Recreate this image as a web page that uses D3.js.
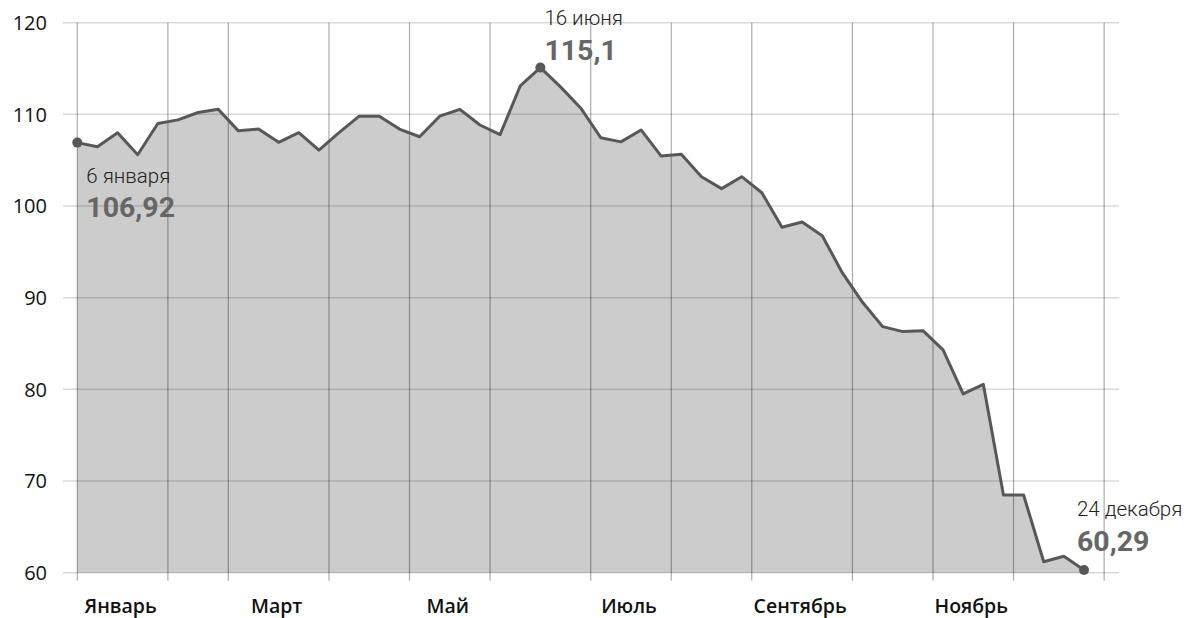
<!DOCTYPE html>
<html lang="ru">
<head>
<meta charset="utf-8">
<script src="https://cdn.jsdelivr.net/npm/d3@7"></script>
<style>
  html, body { margin: 0; padding: 0; background: #fff; }
  svg { display: block; }
</style>
</head>
<body>
<svg id="chart" width="1191" height="618"></svg>
<script>
// Weekly closing prices, one point per week (first week of January to the last week of December)
const prices = [
  106.92, 106.47, 108.0, 105.6, 109.0, 109.4, 110.2, 110.55, 108.2, 108.4,
  106.95, 108.0, 106.1, 108.0, 109.8, 109.8, 108.4, 107.56, 109.8, 110.55,
  108.84, 107.8, 113.1, 115.1, 113.0, 110.7, 107.45, 107.0, 108.3, 105.45,
  105.64, 103.2, 101.9, 103.2, 101.45, 97.68, 98.26, 96.76, 92.7, 89.5,
  86.84, 86.3, 86.4, 84.3, 79.5, 80.55, 68.47, 68.47, 61.2, 61.8,
  60.29
];

// Y axis tick values
const yTicks = [60, 70, 80, 90, 100, 110, 120];

// Month boundaries expressed in week index, and the months they open
const monthBounds = [0, 4.5, 7.5, 12.5, 16.5, 20.5, 25.5, 29.5, 33.5, 38.5, 42.5, 46.5, 51];
const monthNames = ["Январь", "Февраль", "Март", "Апрель", "Май", "Июнь",
                    "Июль", "Август", "Сентябрь", "Октябрь", "Ноябрь", "Декабрь"];
const labelledMonths = ["Январь", "Март", "Май", "Июль", "Сентябрь", "Ноябрь"];

// Highlighted points: week index, date caption, value caption
const callouts = [
  { week: 0,  date: "6 января",   value: "106,92" },
  { week: 23, date: "16 июня",    value: "115,1" },
  { week: 50, date: "24 декабря", value: "60,29" }
];

const svg = d3.select("#chart");

const x = d3.scaleLinear().domain([0, prices.length - 1]).range([77.3, 1084]);
const y = d3.scaleLinear().domain([60, 120]).range([572.7, 22.7]);

// Filled area under the price line
const area = d3.area()
  .x((d, i) => x(i))
  .y0(y(60))
  .y1(d => y(d));

svg.append("path")
  .datum(prices)
  .attr("d", area)
  .attr("fill", "#cccccc");

// Horizontal gridlines
svg.append("g")
  .selectAll("line")
  .data(yTicks)
  .join("line")
  .attr("x1", 63)
  .attr("x2", 1119)
  .attr("y1", d => y(d))
  .attr("y2", d => y(d))
  .attr("stroke", "rgba(0,0,0,0.15)")
  .attr("stroke-width", 1.5);

// Vertical month gridlines, running slightly below the baseline
svg.append("g")
  .selectAll("line")
  .data(monthBounds)
  .join("line")
  .attr("x1", d => x(d))
  .attr("x2", d => x(d))
  .attr("y1", y(120))
  .attr("y2", y(60) + 8)
  .attr("stroke", "rgba(0,0,0,0.33)")
  .attr("stroke-width", 1.2);

// Price line
const line = d3.line()
  .x((d, i) => x(i))
  .y(d => y(d));

svg.append("path")
  .datum(prices)
  .attr("d", line)
  .attr("fill", "none")
  .attr("stroke", "#585858")
  .attr("stroke-width", 3)
  .attr("stroke-linejoin", "round");

// Y tick labels
svg.append("g")
  .selectAll("text")
  .data(yTicks)
  .join("text")
  .attr("x", 47)
  .attr("y", d => y(d))
  .attr("dy", "0.36em")
  .attr("text-anchor", "end")
  .attr("font-family", "'Open Sans', sans-serif")
  .attr("font-weight", 500)
  .attr("font-size", 20)
  .attr("fill", "#111")
  .text(d => d);

// Month labels centred in their month span
svg.append("g")
  .selectAll("text")
  .data(labelledMonths)
  .join("text")
  .attr("x", name => {
    const k = monthNames.indexOf(name);
    return (x(monthBounds[k]) + x(monthBounds[k + 1])) / 2 - 2;
  })
  .attr("y", 613)
  .attr("text-anchor", "middle")
  .attr("font-family", "'Open Sans', sans-serif")
  .attr("font-weight", 600)
  .attr("font-size", 19.5)
  .attr("fill", "#111")
  .text(d => d);

// Highlighted points with captions
const callG = svg.append("g")
  .selectAll("g")
  .data(callouts)
  .join("g");

callG.append("circle")
  .attr("cx", d => x(d.week))
  .attr("cy", d => y(prices[d.week]))
  .attr("r", 5)
  .attr("fill", "#585858");

const offsets = {
  0:  { dx: 9,  dateY: 183, valueY: 217 },
  23: { dx: 4,  dateY: 25,  valueY: 60 },
  50: { dx: -7, dateY: 516, valueY: 551 }
};

callG.append("text")
  .attr("x", d => x(d.week) + offsets[d.week].dx)
  .attr("y", d => offsets[d.week].dateY)
  .attr("font-family", "Roboto, sans-serif")
  .attr("font-weight", 300)
  .attr("font-size", 20.5)
  .attr("fill", "#222")
  .text(d => d.date);

callG.append("text")
  .attr("x", d => x(d.week) + offsets[d.week].dx)
  .attr("y", d => offsets[d.week].valueY)
  .attr("font-family", "Roboto, sans-serif")
  .attr("font-weight", 700)
  .attr("font-size", 28.5)
  .attr("fill", "#666")
  .text(d => d.value);
</script>
</body>
</html>
